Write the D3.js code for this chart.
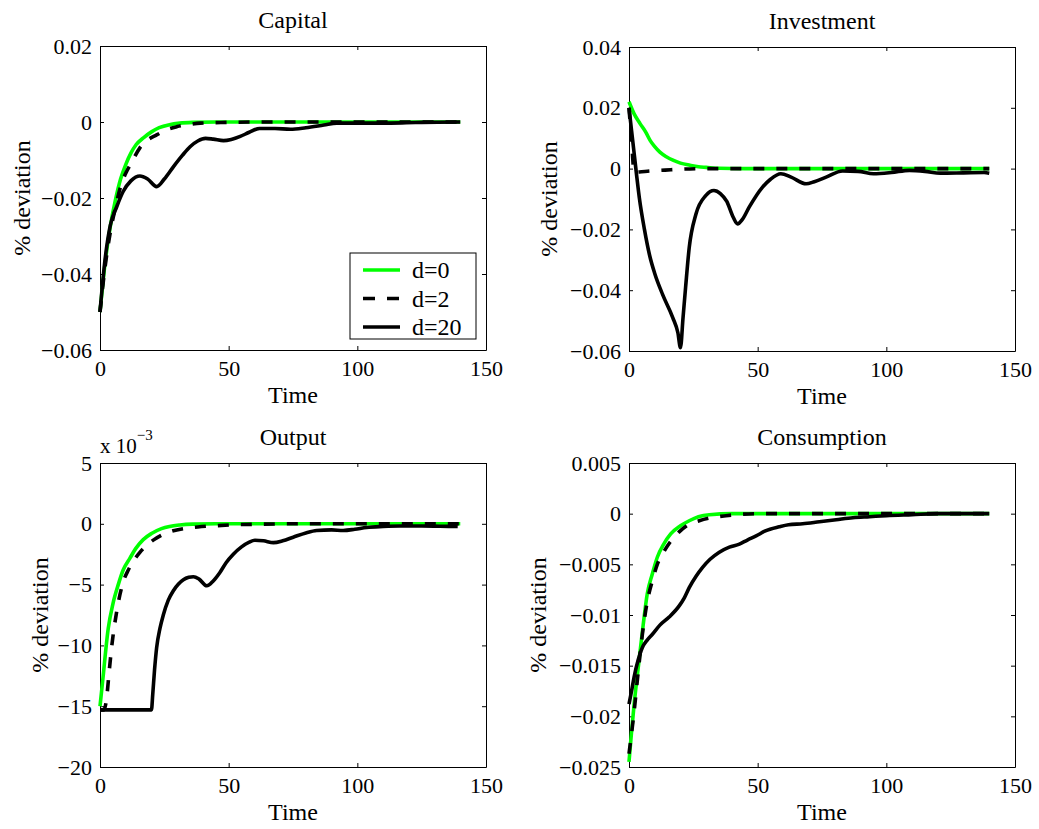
<!DOCTYPE html>
<html>

<head>
    <title>Impulse responses</title>
    <style>
        * {
            margin: 0;
            padding: 0;
        }

        body {
            background-color: #fff;
        }

        svg text {
            font-family: "Liberation Serif", "Times New Roman", serif;
            fill: #000;
        }
    </style>
    <script src="https://cdn.jsdelivr.net/npm/d3@7/dist/d3.min.js" type="text/javascript"></script>
</head>

<body>
    <div id="root"></div>

    <script>
        // series labels
        var seriesNames = ["d=0", "d=2", "d=20"];

        // [time, value] pairs
        var capitalD0 = [[0, -0.05], [2, -0.037], [4, -0.0275], [6, -0.0205], [8, -0.015], [10, -0.0112], [12, -0.0082], [14, -0.006], [17, -0.0041], [20, -0.0026], [23, -0.0015], [27, -0.0007], [31, -0.0003], [36, -0.0001], [45, 0], [140, 0]];
        var capitalD2 = [[0, -0.05], [2, -0.038], [4, -0.029], [6, -0.0225], [8, -0.017], [10, -0.0135], [12, -0.011], [15.5, -0.0068], [18, -0.005], [22, -0.0034], [26, -0.002], [30, -0.0012], [35, -0.0006], [39, -0.0003], [50, -0.0001], [60, 0], [140, 0]];
        var capitalD20 = [[0, -0.05], [2, -0.036], [4, -0.0272], [6.5, -0.0223], [9, -0.0183], [12, -0.0155], [15.5, -0.0142], [18.5, -0.015], [22, -0.017], [25, -0.015], [28.5, -0.0118], [32, -0.0088], [35, -0.0065], [38, -0.005], [41, -0.0043], [44, -0.0045], [48, -0.0049], [51, -0.0046], [54.5, -0.0038], [58, -0.0027], [62, -0.0017], [68, -0.0017], [74, -0.0019], [80, -0.0015], [87, -0.0008], [92, -0.0003], [100, -0.0003], [110, -0.0003], [119, -0.0002], [125, -0.0001], [140, 0]];

        var investmentD0 = [[0, 0.022], [2, 0.018], [4.3, 0.0148], [6.5, 0.012], [8.2, 0.0093], [10, 0.0072], [12, 0.0054], [14.5, 0.0039], [17.3, 0.0027], [20, 0.0018], [23.7, 0.0011], [27, 0.0006], [30, 0.0004], [35, 0.0001], [45, 0], [140, 0]];
        var investmentD2 = [[0, 0.02], [1, 0.009], [2, -0.0012], [4, -0.0011], [8, -0.0008], [14, -0.0005], [20, -0.0002], [30, 0], [140, 0]];
        var investmentD20 = [[0, 0.02], [1, 0.0125], [2, 0.005], [3, -0.0025], [4, -0.0095], [6, -0.02], [8, -0.0285], [10, -0.0345], [13, -0.0413], [17, -0.049], [19, -0.054], [20, -0.0589], [21, -0.049], [22, -0.039], [23.4, -0.026], [26, -0.015], [29.9, -0.0088], [33, -0.0072], [35.5, -0.0082], [38, -0.0108], [40.5, -0.016], [42.2, -0.0182], [44, -0.0168], [46.7, -0.0127], [51.9, -0.0061], [55, -0.0035], [59, -0.0017], [63, -0.0028], [68.8, -0.005], [72, -0.0043], [76.6, -0.0028], [83, -0.0008], [89, -0.0009], [95, -0.0017], [102, -0.0013], [109, -0.0006], [115, -0.0009], [121, -0.0015], [130, -0.0014], [138, -0.0013], [140, -0.0015]];

        // output values are in units of 10^-3
        var outputD0 = [[0, -15.0], [1, -13], [3.2, -8.6], [5, -6.6], [7.1, -5.0], [9, -3.8], [11.7, -2.8], [14, -2.0], [16.8, -1.3], [20, -0.8], [23.9, -0.4], [27, -0.22], [31, -0.1], [36, -0.03], [45, 0], [140, 0]];
        var outputD2 = [[0, -15.3], [1.5, -15.3], [2.6, -14.3], [3.5, -12.3], [4.5, -10.2], [6.5, -7.2], [9, -4.8], [11, -3.8], [13, -3.06], [15.5, -2.35], [18, -1.8], [21, -1.3], [24.6, -0.86], [28, -0.6], [32.5, -0.4], [38, -0.26], [44, -0.17], [52, -0.08], [60, -0.04], [75, 0], [140, 0]];
        var outputD20 = [[0, -15.3], [20, -15.3], [20.5, -14], [21.2, -12], [22, -10.2], [23.3, -8.6], [24.6, -7.5], [26.5, -6.3], [28.5, -5.5], [30.5, -4.95], [32.4, -4.6], [34.5, -4.4], [36.3, -4.35], [38.5, -4.55], [41.5, -5.1], [44, -4.7], [46.6, -4.0], [49, -3.2], [51.8, -2.5], [55, -1.9], [58, -1.5], [60.2, -1.35], [63.5, -1.4], [67.4, -1.55], [71, -1.4], [75.1, -1.1], [80, -0.75], [84.2, -0.55], [90, -0.5], [94.5, -0.55], [99, -0.45], [103.6, -0.3], [110, -0.22], [116.6, -0.18], [125, -0.18], [132, -0.2], [139, -0.22]];

        var consumptionD0 = [[0, -0.0245], [1, -0.0215], [2, -0.0188], [3.9, -0.0145], [5.5, -0.011], [7.1, -0.0079], [9, -0.006], [11, -0.0043], [13.5, -0.003], [16.2, -0.002], [20, -0.0012], [23.4, -0.0007], [27, -0.0003], [31.2, -0.0001], [40, 0], [140, 0]];
        var consumptionD2 = [[0, -0.0237], [2, -0.0195], [3.5, -0.0158], [5.2, -0.0119], [7, -0.0088], [9.1, -0.0066], [11, -0.005], [13, -0.004], [16, -0.0028], [19.5, -0.0018], [23, -0.0011], [27.3, -0.0007], [32, -0.0004], [37.7, -0.0002], [50, 0], [140, 0]];
        var consumptionD20 = [[0, -0.0188], [1, -0.0175], [2, -0.0161], [3.5, -0.0145], [5.2, -0.0132], [7, -0.0125], [9.1, -0.0119], [12, -0.011], [15.6, -0.0102], [19.5, -0.0091], [21.5, -0.0083], [23.4, -0.0073], [26, -0.0062], [28.6, -0.0053], [31.5, -0.0045], [35.1, -0.0038], [39, -0.0033], [42.9, -0.003], [46, -0.0026], [49.4, -0.0022], [53, -0.0017], [58.4, -0.0013], [62, -0.0011], [67.5, -0.001], [74, -0.0008], [80.5, -0.0006], [87, -0.0004], [93.5, -0.0003], [100, -0.0002], [110, -0.0001], [120, 0], [140, 0]];

        // tick values
        var xTicks = [0, 50, 100, 150];
        var capitalTicks = [0.02, 0, -0.02, -0.04, -0.06];
        var investmentTicks = [0.04, 0.02, 0, -0.02, -0.04, -0.06];
        var outputTicks = [5, 0, -5, -10, -15, -20];
        var consumptionTicks = [0.005, 0, -0.005, -0.01, -0.015, -0.02, -0.025];

        var width = 1039;
        var height = 829;
        var svg = d3.select("#root").append("svg").attr("width", width).attr("height", height);

        var panels = [
            { title: "Capital", left: 100, top: 46, ticks: capitalTicks, series: [capitalD0, capitalD2, capitalD20], labelGap: 70, legend: true },
            { title: "Investment", left: 629, top: 47, ticks: investmentTicks, series: [investmentD0, investmentD2, investmentD20], labelGap: 72 },
            { title: "Output", left: 100, top: 463, ticks: outputTicks, series: [outputD0, outputD2, outputD20], labelGap: 52, exponent: true },
            { title: "Consumption", left: 629, top: 463, ticks: consumptionTicks, series: [consumptionD0, consumptionD2, consumptionD20], labelGap: 83 }
        ];

        var boxW = 386;
        var boxH = 304;
        var styles = [
            { stroke: "#00ff00", dash: null },
            { stroke: "#000", dash: "11,12" },
            { stroke: "#000", dash: null }
        ];

        function fmt(v) {
            return String(+v.toFixed(3)).replace("-", "\u2212");
        }

        panels.forEach(function (p) {
            var g = svg.append("g").attr("transform", `translate(${p.left}, ${p.top})`);
            var x = d3.scaleLinear().domain([0, 150]).range([0, boxW]);
            var y = d3.scaleLinear().domain(d3.extent(p.ticks)).range([boxH, 0]);

            // axes with inward ticks on all four sides
            var bottom = d3.axisBottom(x).tickValues(xTicks).tickSize(-4).tickSizeOuter(0).tickPadding(10);
            var top = d3.axisTop(x).tickValues(xTicks).tickSize(-4).tickSizeOuter(0).tickFormat("");
            var left = d3.axisLeft(y).tickValues(p.ticks).tickSize(-4).tickSizeOuter(0).tickPadding(8).tickFormat(fmt);
            var right = d3.axisRight(y).tickValues(p.ticks).tickSize(-4).tickSizeOuter(0).tickFormat("");

            g.append("g").attr("transform", `translate(0, ${boxH})`).call(bottom);
            g.append("g").call(top);
            g.append("g").call(left);
            g.append("g").attr("transform", `translate(${boxW}, 0)`).call(right);

            g.selectAll(".domain").attr("stroke", "#000").attr("stroke-width", 1);
            g.selectAll(".tick line").attr("stroke", "#000");
            g.selectAll(".tick text").style("font-size", "22px").attr("font-family", null);

            var line = d3.line()
                .x(function (d) { return x(d[0]); })
                .y(function (d) { return y(d[1]); })
                .curve(d3.curveMonotoneX);

            p.series.forEach(function (s, i) {
                g.append("path")
                    .datum(s)
                    .attr("d", line)
                    .attr("fill", "none")
                    .attr("stroke", styles[i].stroke)
                    .attr("stroke-width", 3.6)
                    .attr("stroke-dasharray", styles[i].dash);
            });

            g.append("text").attr("x", boxW / 2).attr("y", -18)
                .attr("text-anchor", "middle").style("font-size", "24px").text(p.title);
            g.append("text").attr("x", boxW / 2).attr("y", boxH + 53)
                .attr("text-anchor", "middle").style("font-size", "24px").text("Time");
            g.append("text")
                .attr("transform", `translate(${-p.labelGap}, ${boxH / 2}) rotate(-90)`)
                .attr("text-anchor", "middle").style("font-size", "24px").text("% deviation");

            if (p.exponent) {
                var t = g.append("text").attr("x", 0).attr("y", -10).style("font-size", "21px");
                t.append("tspan").text("x 10");
                t.append("tspan").attr("dy", -13).style("font-size", "15px").text("\u22123");
            }

            if (p.legend) {
                var lg = g.append("g").attr("transform", `translate(${350 - p.left}, ${253 - p.top})`);
                lg.append("rect").attr("width", 126).attr("height", 86)
                    .attr("fill", "#fff").attr("stroke", "#000").attr("stroke-width", 1);
                seriesNames.forEach(function (name, i) {
                    var ry = 17 + i * 28.5;
                    lg.append("line").attr("x1", 13).attr("x2", 50).attr("y1", ry).attr("y2", ry)
                        .attr("stroke", styles[i].stroke).attr("stroke-width", 3.6)
                        .attr("stroke-dasharray", styles[i].dash ? "12,12" : null);
                    lg.append("text").attr("x", 62).attr("y", ry).attr("dy", "0.35em")
                        .style("font-size", "24px").text(name);
                });
            }
        });
    </script>
</body>

</html>
